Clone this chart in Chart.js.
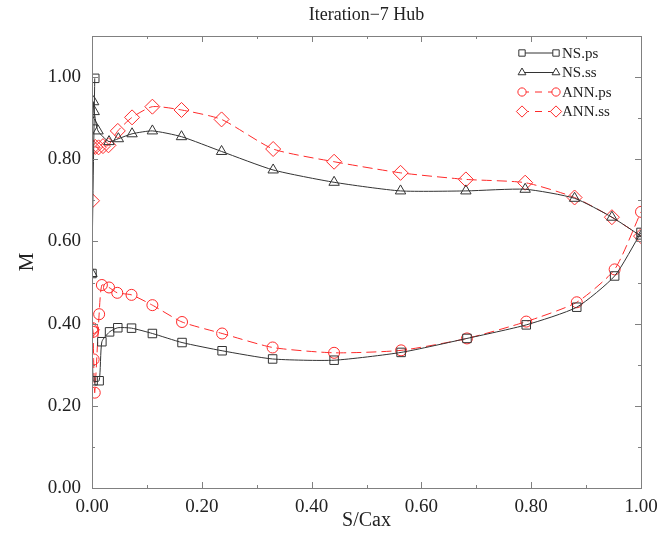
<!DOCTYPE html>
<html>
<head>
<meta charset="utf-8">
<script src="https://cdn.jsdelivr.net/npm/chart.js@4"></script>
<style>
  html, body { margin: 0; padding: 0; background: #fff; }
  #wrap { width: 672px; height: 545px; }
</style>
</head>
<body>
<div id="wrap"><canvas id="mach"></canvas></div>
<script>
/* ---------------- Mach number along S/Cax, hub section ---------------- */

const nsPsX = [0.005, 0.000, 0.002, 0.013, 0.018, 0.032, 0.047, 0.072, 0.110, 0.164, 0.237, 0.329, 0.441, 0.563, 0.683, 0.791, 0.883, 0.952, 1.000];
const nsPsM = [0.997, 0.522, 0.261, 0.261, 0.356, 0.380, 0.390, 0.389, 0.376, 0.354, 0.334, 0.314, 0.311, 0.330, 0.364, 0.397, 0.440, 0.516, 0.622];

const nsSsX = [0.000, 0.001, 0.003, 0.004, 0.011, 0.031, 0.048, 0.073, 0.110, 0.163, 0.236, 0.330, 0.441, 0.562, 0.681, 0.789, 0.879, 0.947, 1.000];
const nsSsM = [0.522, 0.891, 0.940, 0.916, 0.869, 0.843, 0.850, 0.862, 0.869, 0.855, 0.819, 0.774, 0.744, 0.723, 0.723, 0.727, 0.705, 0.659, 0.613];

const annPsX = [0.001, 0.002, 0.003, 0.005, 0.013, 0.018, 0.031, 0.046, 0.072, 0.110, 0.164, 0.237, 0.329, 0.441, 0.563, 0.683, 0.791, 0.883, 0.952, 1.000];
const annPsM = [0.389, 0.380, 0.313, 0.232, 0.423, 0.494, 0.488, 0.475, 0.470, 0.445, 0.404, 0.376, 0.342, 0.329, 0.335, 0.364, 0.405, 0.452, 0.532, 0.672];

const annSsX = [0.000, 0.000, 0.001, 0.006, 0.012, 0.020, 0.030, 0.047, 0.073, 0.110, 0.163, 0.236, 0.330, 0.441, 0.562, 0.681, 0.789, 0.879, 0.947, 1.000];
const annSsM = [0.385, 0.699, 0.829, 0.830, 0.829, 0.832, 0.834, 0.869, 0.902, 0.928, 0.920, 0.897, 0.825, 0.794, 0.767, 0.751, 0.743, 0.707, 0.659, 0.613];

const seriesNames = ['NS.ps', 'NS.ss', 'ANN.ps', 'ANN.ss'];

const SERIF = "'Liberation Serif', 'DejaVu Serif', serif";
const BLACK = '#333333';
const RED = '#ff2a2a';

function pts(xs, ys) {
  return xs.map((x, i) => ({ x: x, y: ys[i] }));
}

function makeSet(label, xs, ys, color, shape, radius, dash) {
  return {
    label: label,
    data: pts(xs, ys),
    borderColor: color,
    backgroundColor: 'rgba(0,0,0,0)',
    borderWidth: 1,
    borderDash: dash,
    pointStyle: shape,
    pointRadius: radius,
    pointBorderColor: color,
    pointBackgroundColor: 'rgba(0,0,0,0)',
    pointBorderWidth: 1,
    tension: 0.2,
    showLine: true
  };
}

// frame, inward ticks, title and legend
const framePlugin = {
  id: 'frame',
  afterDraw(chart) {
    const c = chart.ctx;
    const a = chart.chartArea;
    const xs = chart.scales.x;
    const ys = chart.scales.y;
    c.save();
    c.strokeStyle = '#808080';
    c.lineWidth = 1;
    c.strokeRect(Math.round(a.left) + 0.5, Math.round(a.top) + 0.5,
                 Math.round(a.right - a.left), Math.round(a.bottom - a.top));

    c.beginPath();
    for (let i = 0; i <= 10; i++) {
      const px = Math.round(xs.getPixelForValue(i / 10)) + 0.5;
      const len = i % 2 === 0 ? 6 : 3;
      c.moveTo(px, a.bottom); c.lineTo(px, a.bottom - len);
      c.moveTo(px, a.top); c.lineTo(px, a.top + len);
    }
    for (let i = 0; i <= 11; i++) {
      const py = Math.round(ys.getPixelForValue(i / 10)) + 0.5;
      const len = i % 2 === 0 ? 6 : 3;
      c.moveTo(a.left, py); c.lineTo(a.left + len, py);
      c.moveTo(a.right, py); c.lineTo(a.right - len, py);
    }
    c.stroke();

    // title
    c.fillStyle = '#222';
    c.font = '18px ' + SERIF;
    c.textAlign = 'center';
    c.textBaseline = 'middle';
    c.fillText('Iteration\u22127 Hub', (a.left + a.right) / 2, 15);

    // legend: line sample with a small marker at each end
    const lx0 = 522, lx1 = 556, ly0 = 53, step = 19.5;
    c.textAlign = 'left';
    c.font = '15px ' + SERIF;
    chart.data.datasets.forEach((ds, i) => {
      const y = ly0 + i * step;
      c.strokeStyle = ds.borderColor;
      c.setLineDash(ds.borderDash.length ? [7, 6] : []);
      c.beginPath();
      c.moveTo(lx0, y); c.lineTo(lx1, y);
      c.stroke();
      c.setLineDash([]);
      const opts = { pointStyle: ds.pointStyle, radius: ds.pointRadius * 0.75, rotation: 0, borderWidth: 1 };
      c.fillStyle = '#fff';
      c.strokeStyle = ds.borderColor;
      Chart.helpers.drawPoint(c, opts, lx0, y);
      Chart.helpers.drawPoint(c, opts, lx1, y);
      c.fillStyle = '#222';
      c.fillText(ds.label, lx1 + 6, y + 1);
    });
    c.restore();
  }
};

const ctx = document.getElementById('mach').getContext('2d');
const machChart = new Chart(ctx, {
  type: 'line',
  data: {
    datasets: [
      makeSet(seriesNames[0], nsPsX, nsPsM, BLACK, 'rect', 6, []),
      makeSet(seriesNames[1], nsSsX, nsSsM, BLACK, 'triangle', 6, []),
      makeSet(seriesNames[2], annPsX, annPsM, RED, 'circle', 5.5, [10, 5]),
      makeSet(seriesNames[3], annSsX, annSsM, RED, 'rectRot', 7.5, [10, 5])
    ]
  },
  options: {
    responsive: true,
    maintainAspectRatio: false,
    animation: false,
    layout: { padding: { top: 36, right: 31, left: 0, bottom: 0 } },
    plugins: {
      legend: { display: false },
      tooltip: { enabled: false }
    },
    scales: {
      x: {
        type: 'linear',
        min: 0,
        max: 1,
        border: { display: false },
        grid: { display: false },
        ticks: {
          stepSize: 0.1,
          color: '#222',
          font: { family: SERIF, size: 19 },
          maxRotation: 0,
          padding: 0,
          callback: v => (Math.round(v * 10) % 2 === 0 ? v.toFixed(2) : '')
        },
        title: {
          display: true,
          text: 'S/Cax',
          color: '#222',
          font: { family: SERIF, size: 20 },
          padding: { top: 0, bottom: 12 }
        },
        afterFit: s => { s.height = 57; }
      },
      y: {
        type: 'linear',
        min: 0,
        max: 1.1,
        border: { display: false },
        grid: { display: false },
        ticks: {
          stepSize: 0.1,
          color: '#222',
          font: { family: SERIF, size: 19 },
          padding: 3,
          callback: v => (Math.round(v * 10) % 2 === 0 ? v.toFixed(2) : '')
        },
        title: {
          display: true,
          text: 'M',
          color: '#222',
          font: { family: SERIF, size: 21 },
          padding: { top: 15, bottom: 0 }
        },
        afterFit: s => { s.width = 92; }
      }
    }
  },
  plugins: [framePlugin]
});
</script>
</body>
</html>
